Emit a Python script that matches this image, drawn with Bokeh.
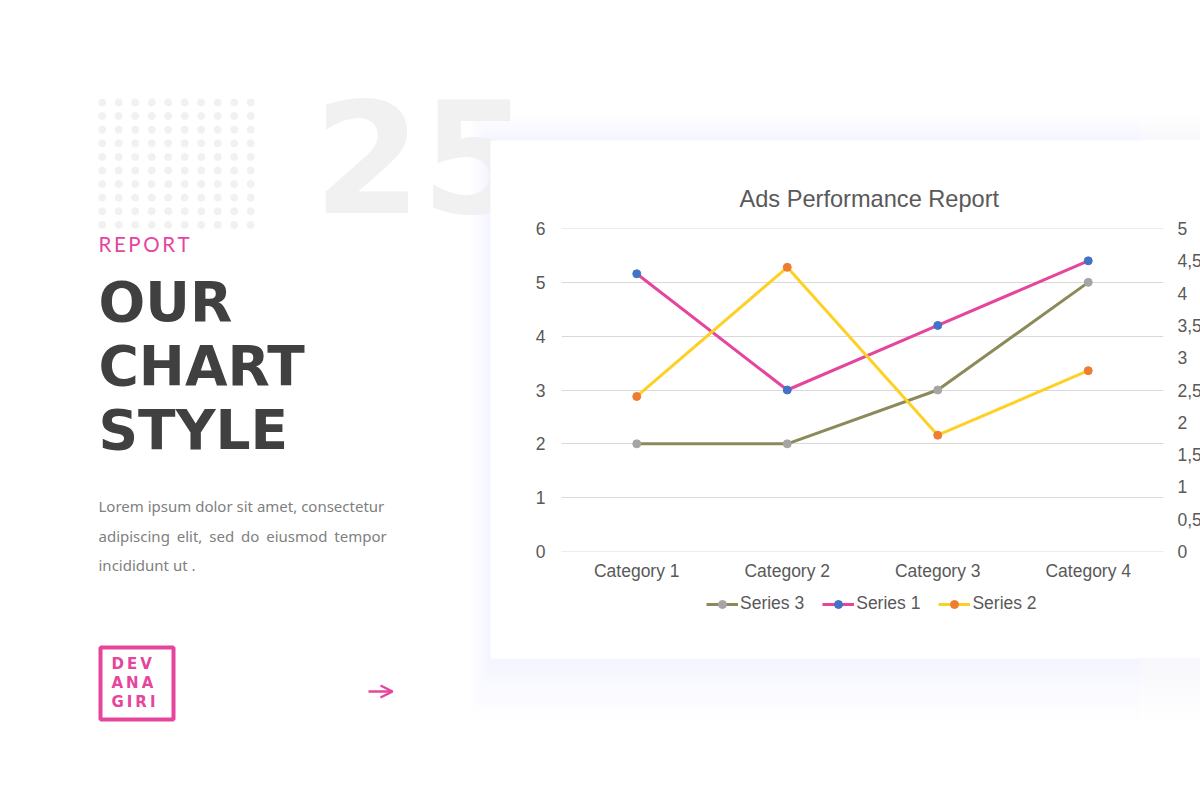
from bokeh.core.properties import value
from bokeh.embed import file_html
from bokeh.layouts import column
from bokeh.models import (Arrow, Div, FixedTicker, Legend, LegendItem, LinearAxis, OpenHead,
                          Range1d, Title)
from bokeh.plotting import figure
from bokeh.resources import INLINE

categories = ["Category 1", "Category 2", "Category 3", "Category 4"]
series_1 = [4.3, 2.5, 3.5, 4.5]
series_2 = [2.4, 4.4, 1.8, 2.8]
series_3 = [2, 2, 3, 5]
left_ticks = [0, 1, 2, 3, 4, 5, 6]
right_ticks = [0, 0.5, 1, 1.5, 2, 2.5, 3, 3.5, 4, 4.5, 5]
right_labels = ["0", "0,5", "1", "1,5", "2", "2,5", "3", "3,5", "4", "4,5", "5"]
series_names = ["Series 3", "Series 1", "Series 2"]

PINK = "#e6459d"
GREY = "#595959"
H = "\u200a\u200a"  # hair spaces, stand in for the letter spacing of the slide

# slide behind the chart, its data units are page pixels
# a column lines up the frames of its plots, so both plots get the same side borders
BORDER_LEFT, BORDER_RIGHT = 40, 60
bg = figure(width=1200, height=800, x_range=Range1d(BORDER_LEFT, 1200 - BORDER_RIGHT),
            y_range=Range1d(800, 0), x_axis_location=None, y_axis_location=None,
            output_backend="svg", toolbar_location=None, min_border_left=BORDER_LEFT,
            min_border_right=BORDER_RIGHT, min_border_top=0, min_border_bottom=0)
bg.grid.visible = False
bg.outline_line_color = None

def label(x, y, text, font, size, color, style="normal"):
    bg.text([x], [y], text=[text], text_font=value(font), text_font_size=value(size),
            text_color=color, text_font_style=style, text_baseline="middle")

# dotted square and the big number
dot_x = [101.7 + i * 16.5 for i in range(10) for j in range(10)]
dot_y = [102 + j * 13.6 for i in range(10) for j in range(10)]
bg.scatter(dot_x, dot_y, size=7, color="#f1f1f2")
label(313, 155, "25", "DejaVu Sans", "155px", "#f1f1f2", "bold")

# card with its soft shadow
for g in range(10, 0, -1):
    bg.quad(left=490 - 2 * g, right=1210, top=140 - 2.5 * g, bottom=658 + 6.2 * g,
            fill_color="#efeffa", fill_alpha=0.07, line_color=None)
bg.quad(left=490, right=1210, top=140, bottom=658, fill_color="white", line_color=None)

# the same shadow for the strip right of the slide's frame
strip = Div(text="", width=60, height=605, margin=0, styles={
    "position": "absolute", "left": "1140px", "top": "115px",
    "background": "linear-gradient(to bottom, #ffffff 0%, #f7f7fc 4.1%, #ffffff 4.1%, "
                  "#ffffff 89.7%, #f7f7fc 89.7%, #ffffff 100%)"})

# left column
label(98, 243, H.join("REPORT"), "Lato", "20.5px", PINK)
label(98, 301, "OUR", "DejaVu Sans", "55px", "#404040", "bold")
label(98, 365, "CHART", "DejaVu Sans", "55px", "#404040", "bold")
label(98, 429, "STYLE", "DejaVu Sans", "55px", "#404040", "bold")
label(98, 505, "Lorem ipsum dolor sit amet, consectetur", "Noto Sans", "15px", "#808080")
label(98, 535, "adipiscing elit, sed do eiusmod tempor".replace(" ", " " + H), "Noto Sans", "15px", "#808080")
label(98, 564, "incididunt ut .", "Noto Sans", "15px", "#808080")

# logo and arrow
bg.quad(left=100, right=173, top=647, bottom=719, fill_alpha=0, line_color=PINK, line_width=4)
label(111, 663, H.join("DEV"), "DejaVu Sans", "15px", PINK, "bold")
label(111, 682, H.join("ANA"), "DejaVu Sans", "15px", PINK, "bold")
label(111, 701, H.join("GIRI"), "DejaVu Sans", "15px", PINK, "bold")
bg.add_layout(Arrow(end=OpenHead(size=12, line_color=PINK, line_width=2.5),
                    x_start=368, x_end=392, y_start=691, y_end=691,
                    line_color=PINK, line_width=2.5))

# legend lives on the slide, where there is room for it; its proxies sit off the slide
legend_lines = ["#8c8a5a", PINK, "#ffd024"]
legend_dots = ["#a5a5a5", "#4472c4", "#ed7d31"]
items = []
for name, lc, dc in zip(series_names, legend_lines, legend_dots):
    r1 = bg.line([-50, -40], [-50, -40], line_color=lc, line_width=3)
    r2 = bg.scatter([-50], [-50], size=8, color=dc)
    items.append(LegendItem(label=name, renderers=[r1, r2]))
bg.add_layout(Legend(items=items, orientation="horizontal", location=(706 - BORDER_LEFT, 186),
                     border_line_color=None, background_fill_alpha=0,
                     label_text_font="Liberation Sans", label_text_font_size="17.5px",
                     label_text_color=GREY, glyph_width=32, label_standoff=2, spacing=18,
                     padding=0, margin=0))

# chart, laid over the card
p = figure(x_range=categories, y_range=Range1d(-0.001, 6.001), frame_width=602, frame_height=323,
           output_backend="svg", toolbar_location=None, min_border_left=BORDER_LEFT,
           min_border_right=BORDER_RIGHT, min_border_top=0, min_border_bottom=0,
           styles={"position": "absolute", "left": "521px", "top": "166px"})
p.outline_line_color = None
p.border_fill_alpha = 0
p.background_fill_alpha = 0
p.x_range.range_padding = 0
p.extra_y_ranges = {"right": Range1d(-0.001, 5.001)}

p.title = Title(text="Ads Performance Report", align="left", offset=178, standoff=34,
                text_font="Liberation Sans", text_font_size="23.6px", text_font_style="normal",
                text_color=GREY)

p.xgrid.visible = False
p.ygrid.grid_line_color = "#d9d9d9"
p.ygrid.ticker = FixedTicker(ticks=left_ticks)

p.yaxis.ticker = FixedTicker(ticks=left_ticks)
right_axis = LinearAxis(y_range_name="right", ticker=FixedTicker(ticks=right_ticks),
                        major_label_overrides=dict(zip(right_ticks, right_labels)))
p.add_layout(right_axis, "right")
for ax in [p.xaxis[0], p.yaxis[0], right_axis]:
    ax.axis_line_color = None
    ax.major_tick_line_color = None
    ax.minor_tick_line_color = None
    ax.major_label_text_font = "Liberation Sans"
    ax.major_label_text_font_size = "17.5px"
    ax.major_label_text_color = GREY
p.yaxis[0].major_label_standoff = 10
right_axis.major_label_standoff = 8
p.xaxis[0].major_label_standoff = 3

p.line(categories, series_3, line_color=legend_lines[0], line_width=3)
p.scatter(categories, series_3, size=8, color=legend_dots[0])
p.line(categories, series_1, y_range_name="right", line_color=legend_lines[1], line_width=3)
p.scatter(categories, series_1, y_range_name="right", size=8, color=legend_dots[1])
p.line(categories, series_2, y_range_name="right", line_color=legend_lines[2], line_width=3)
p.scatter(categories, series_2, y_range_name="right", size=8, color=legend_dots[2])

page = column(bg, strip, p, styles={"position": "relative", "overflow": "hidden"})
open("out.html", "w").write(file_html(page, INLINE))
